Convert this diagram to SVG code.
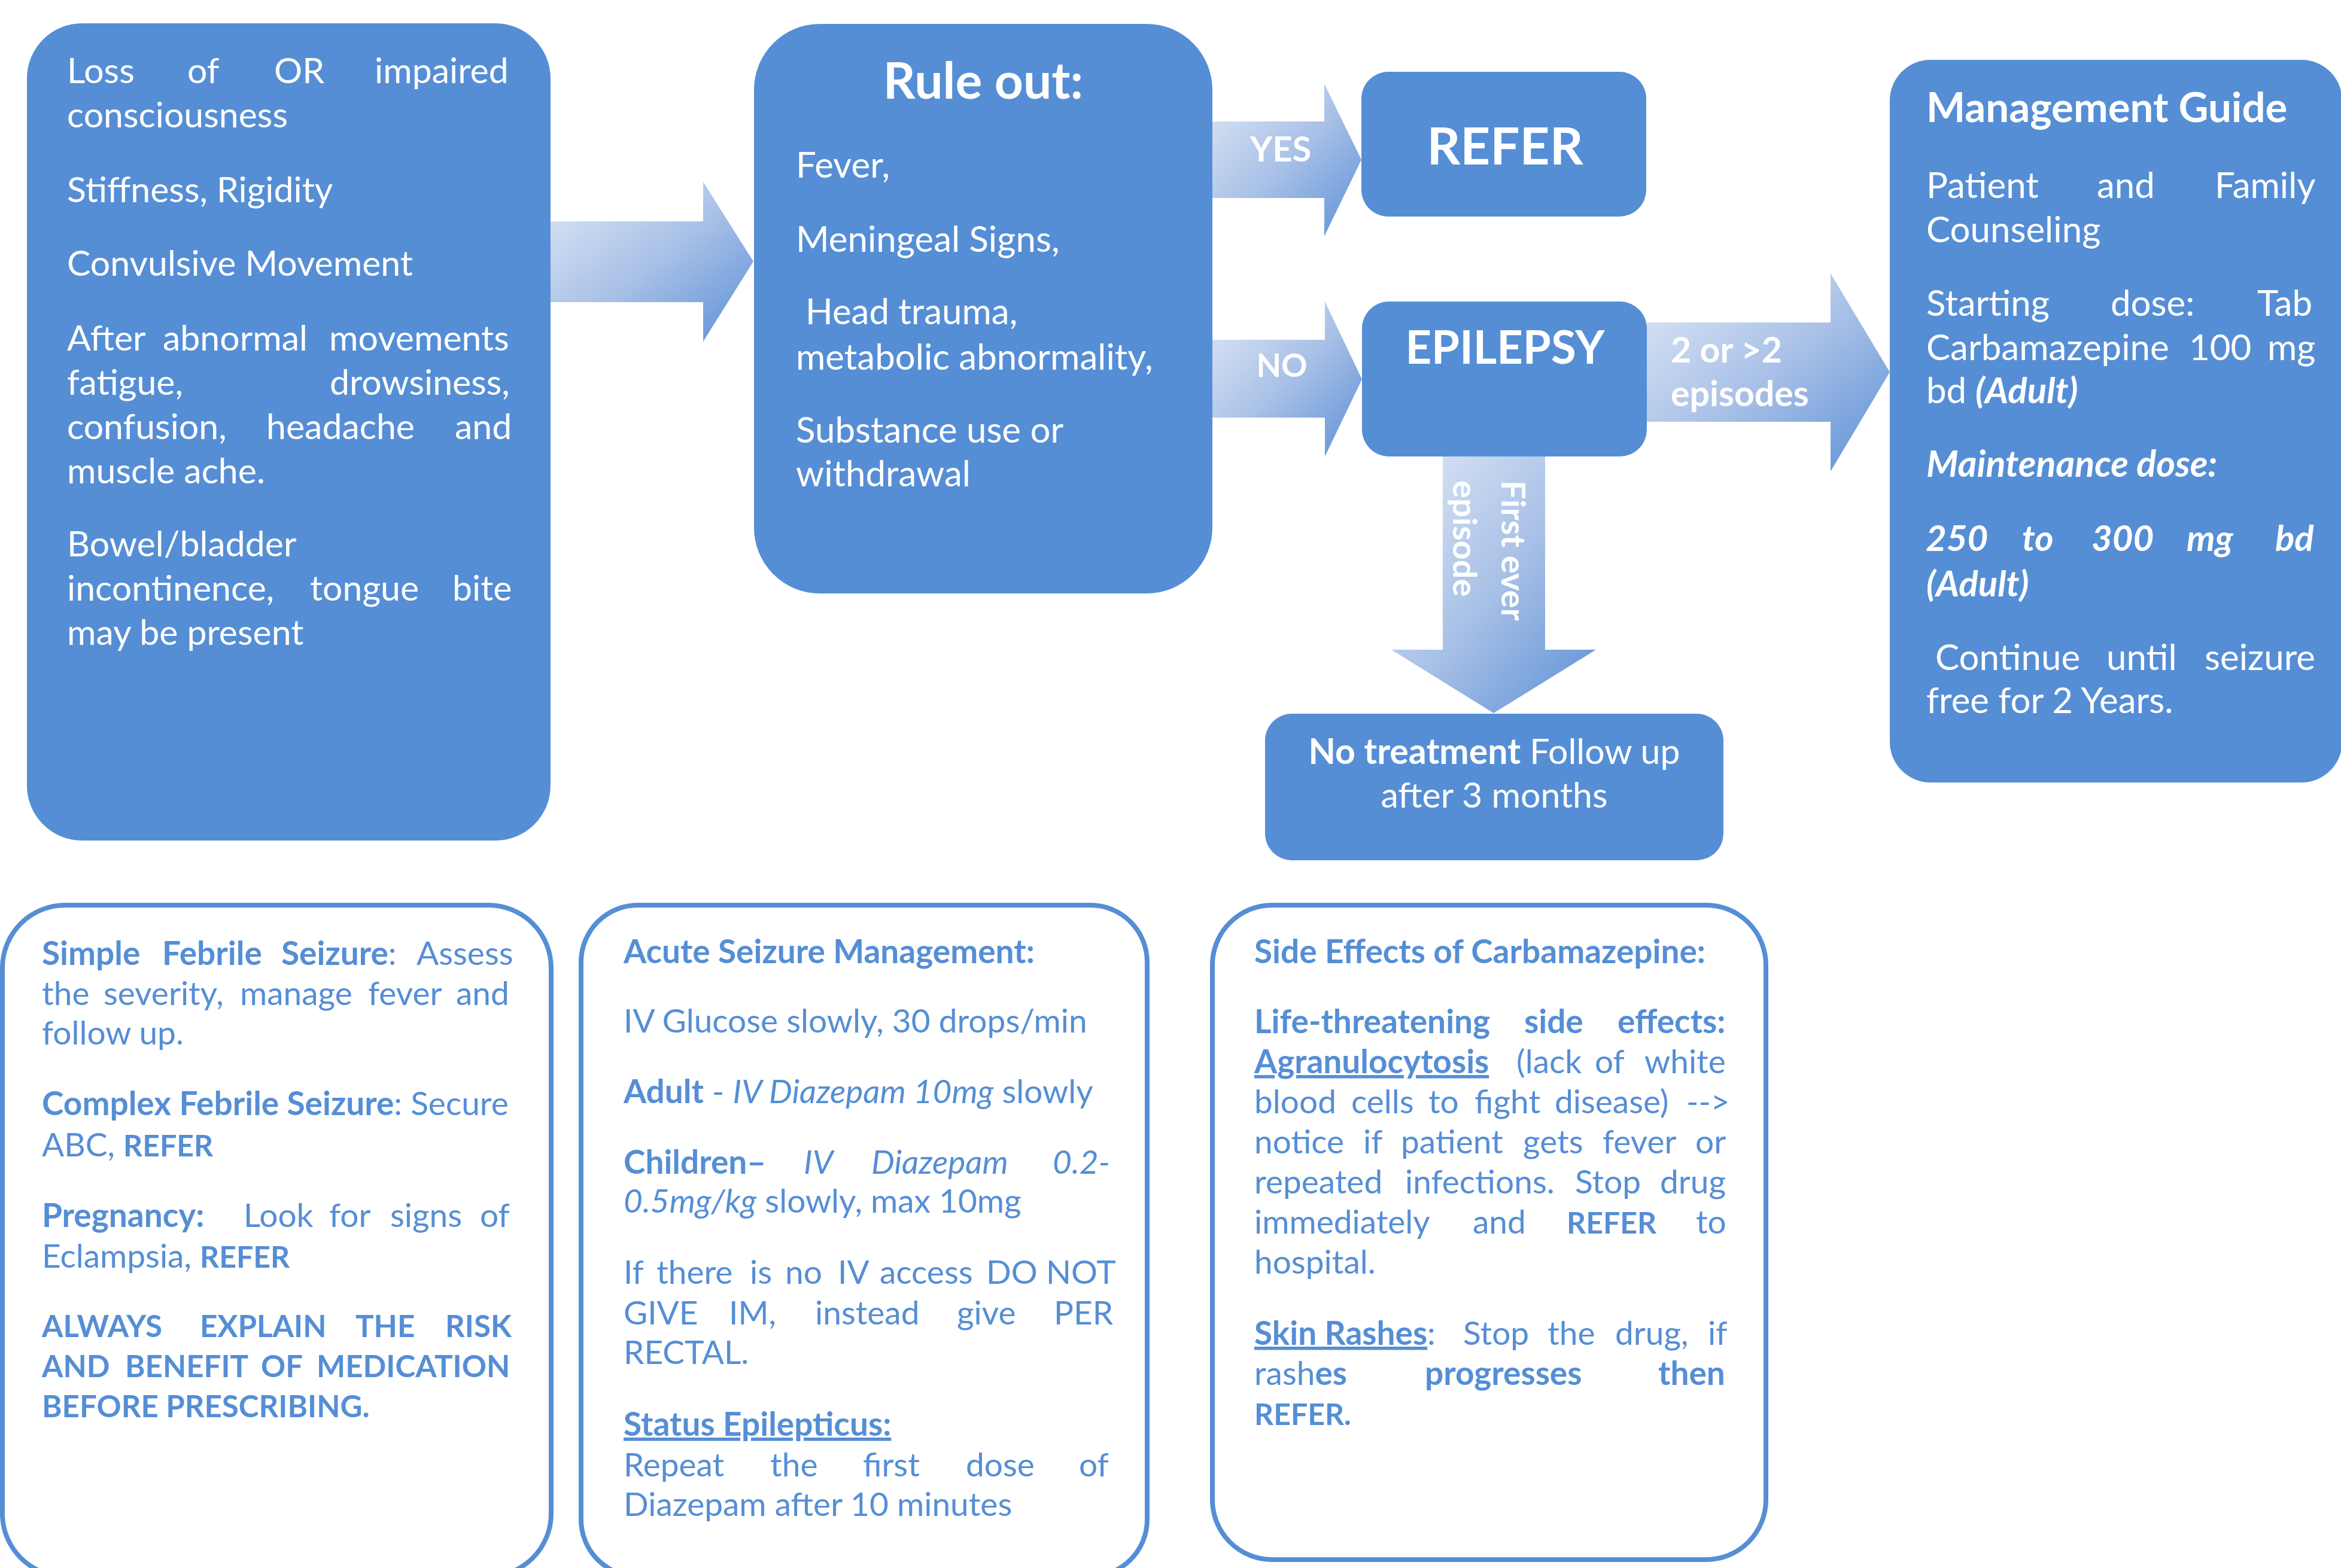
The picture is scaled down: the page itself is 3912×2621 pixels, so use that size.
<svg xmlns="http://www.w3.org/2000/svg" width="3912" height="2621" viewBox="0 0 3912 2621">
<style>
text{font-family:Lato,"Liberation Sans",sans-serif;}
.w{fill:#ffffff;}
.bl{fill:#558ED5;}
.s59{font-size:59px;}
.s60{font-size:60px;}
.s55{font-size:55px;}
.b{font-weight:700;}
.cap{font-size:50px;}
.n{font-weight:400;}
.i{font-style:italic;}
.u{text-decoration:underline;}
.node{fill:#558ED5;}
.out{fill:#ffffff;stroke:#558ED5;stroke-width:8;}
.arrow{fill:url(#grad);}
</style>
<defs>
<linearGradient id="grad" x1="0" y1="0" x2="1" y2="1">
<stop offset="0" stop-color="#DFE8F6"/>
<stop offset="0.5" stop-color="#A9C1E7"/>
<stop offset="1" stop-color="#5C90D6"/>
</linearGradient>
</defs>
<rect width="3912" height="2621" fill="#ffffff"/>

<g id="connectors">
<polygon class="arrow" points="920,370 1175,370 1175,304 1259,437 1175,571 1175,505 920,505"/>
<g id="edge-yes">
<polygon class="arrow" points="2026,203 2213,203 2213,140 2275,267 2213,395 2213,331 2026,331"/>
<text class="w b" x="2140" y="270" font-size="58" text-anchor="middle">YES</text>
</g>
<g id="edge-no">
<polygon class="arrow" points="2026,568 2214,568 2214,504 2276,634 2214,763 2214,698 2026,698"/>
<text class="w b" x="2142" y="630" font-size="54" text-anchor="middle">NO</text>
</g>
<g id="edge-2">
<polygon class="arrow" points="2752,539 3059,539 3059,457 3158,622 3059,788 3059,705 2752,705"/>
<text class="w b" font-size="59"><tspan x="2792" y="606">2 or &gt;2</tspan><tspan x="2792" y="679">episodes</tspan></text>
</g>
<g id="edge-first">
<polygon class="arrow" points="2411,763 2582,763 2582,1086 2667,1086 2496,1192 2325,1086 2411,1086"/>
<text class="w b" font-size="56" transform="translate(2509,803) rotate(90)"><tspan x="0" y="0">First ever</tspan><tspan x="0" y="81">episode</tspan></text>
</g>
</g>

<g id="symptoms">
<rect class="node" x="45" y="39" width="875" height="1366" rx="92"/>
<text class="w s59">
<tspan x="112" y="139">Loss </tspan><tspan x="313" y="139">of </tspan><tspan x="458" y="139">OR </tspan><tspan x="626" y="139">impaired</tspan>
<tspan x="112" y="213">consciousness</tspan>
</text>
<text class="w s59" x="112" y="338">Stiffness, Rigidity</text>
<text class="w s59" x="112" y="461">Convulsive Movement</text>
<text class="w s59">
<tspan x="112" y="586">After </tspan><tspan x="272" y="586">abnormal </tspan><tspan x="550" y="586">movements</tspan>
<tspan x="112" y="660">fatigue, </tspan><tspan x="551" y="660">drowsiness,</tspan>
<tspan x="112" y="734">confusion, </tspan><tspan x="445" y="734">headache </tspan><tspan x="760" y="734">and</tspan>
<tspan x="112" y="808">muscle ache.</tspan>
</text>
<text class="w s59">
<tspan x="112" y="930">Bowel/bladder</tspan>
<tspan x="112" y="1004">incontinence, </tspan><tspan x="518" y="1004">tongue </tspan><tspan x="756" y="1004">bite</tspan>
<tspan x="112" y="1078">may be present</tspan>
</text>
</g>

<g id="rule-out">
<rect class="node" x="1260" y="40" width="766" height="952" rx="110"/>
<text class="w b" x="1643" y="165" font-size="84" text-anchor="middle">Rule out:</text>
<text class="w s60" x="1330" y="297">Fever,</text>
<text class="w s60" x="1330" y="421">Meningeal Signs,</text>
<text class="w s60"><tspan x="1346" y="542">Head trauma,</tspan><tspan x="1330" y="618">metabolic abnormality,</tspan></text>
<text class="w s60"><tspan x="1330" y="740">Substance use or</tspan><tspan x="1330" y="813">withdrawal</tspan></text>
</g>

<g id="refer">
<rect class="node" x="2275" y="120" width="476" height="242" rx="45"/>
<text class="w b" x="2515" y="275" font-size="87" text-anchor="middle">REFER</text>
</g>

<g id="epilepsy">
<rect class="node" x="2276" y="504" width="476" height="259" rx="45"/>
<text class="w b" x="2515" y="608" font-size="76" text-anchor="middle">EPILEPSY</text>
</g>

<g id="no-treatment">
<rect class="node" x="2114" y="1193" width="766" height="245" rx="45"/>
<text class="w" font-size="59" text-anchor="middle"><tspan x="2497" y="1277"><tspan class="b">No treatment</tspan> Follow up</tspan><tspan x="2497" y="1350">after 3 months</tspan></text>
</g>

<g id="management">
<rect class="node" x="3158" y="100" width="756" height="1208" rx="68"/>
<text class="w b" x="3219" y="204" font-size="69">Management Guide</text>
<text class="w s60"><tspan x="3219" y="331">Patient </tspan><tspan x="3504" y="331">and </tspan><tspan x="3701" y="331">Family</tspan>
<tspan x="3219" y="405">Counseling</tspan></text>
<text class="w s60"><tspan x="3219" y="528">Starting </tspan><tspan x="3527" y="528">dose: </tspan><tspan x="3772" y="528">Tab</tspan>
<tspan x="3219" y="602">Carbamazepine </tspan><tspan x="3658" y="602">100 </tspan><tspan x="3789" y="602">mg</tspan>
<tspan x="3219" y="674">bd </tspan><tspan x="3301" y="674" class="b i">(Adult)</tspan></text>
<text class="w b i" font-size="61" x="3219" y="797">Maintenance dose:</text>
<text class="w s60 b i"><tspan x="3218" y="921">250 </tspan><tspan x="3379" y="921">to </tspan><tspan x="3495" y="921">300 </tspan><tspan x="3654" y="921">mg </tspan><tspan x="3802" y="921">bd</tspan>
<tspan x="3219" y="997">(Adult)</tspan></text>
<text class="w s60"><tspan x="3234" y="1120">Continue </tspan><tspan x="3520" y="1120">until </tspan><tspan x="3684" y="1120">seizure</tspan>
<tspan x="3219" y="1192">free for 2 Years.</tspan></text>
</g>

<g id="febrile">
<rect class="out" x="4" y="1513" width="917" height="1122" rx="105"/>
<text class="bl s55"><tspan x="70" y="1613" class="b">Simple </tspan><tspan x="271" y="1613" class="b">Febrile </tspan><tspan x="470" y="1613"><tspan class="b">Seizure</tspan>: </tspan><tspan x="696" y="1613">Assess</tspan>
<tspan x="70" y="1680">the </tspan><tspan x="173" y="1680">severity, </tspan><tspan x="401" y="1680">manage </tspan><tspan x="615" y="1680">fever </tspan><tspan x="762" y="1680">and</tspan>
<tspan x="70" y="1746">follow up.</tspan></text>
<text class="bl s55"><tspan x="70" y="1864"><tspan class="b">Complex Febrile Seizure</tspan>: Secure</tspan>
<tspan x="70" y="1933">ABC, <tspan class="b cap">REFER</tspan></tspan></text>
<text class="bl s55"><tspan x="70" y="2051" class="b">Pregnancy: </tspan><tspan x="407" y="2051">Look </tspan><tspan x="550" y="2051">for </tspan><tspan x="652" y="2051">signs </tspan><tspan x="802" y="2051">of</tspan>
<tspan x="70" y="2119">Eclampsia, <tspan class="b cap">REFER</tspan></tspan></text>
<text class="bl b" font-size="51"><tspan x="70" y="2235">ALWAYS </tspan><tspan x="334" y="2235">EXPLAIN </tspan><tspan x="594" y="2235">THE </tspan><tspan x="744" y="2235">RISK</tspan>
<tspan x="70" y="2302">AND </tspan><tspan x="209" y="2302">BENEFIT </tspan><tspan x="436" y="2302">OF </tspan><tspan x="529" y="2302">MEDICATION</tspan>
<tspan x="70" y="2369">BEFORE PRESCRIBING.</tspan></text>
</g>

<g id="acute">
<rect class="out" x="971" y="1513" width="946" height="1122" rx="95"/>
<text class="bl s55 b" x="1042" y="1610">Acute Seizure Management:</text>
<text class="bl s55" x="1042" y="1726">IV Glucose slowly, 30 drops/min</text>
<text class="bl s55" x="1042" y="1844"><tspan class="b">Adult</tspan> - <tspan class="i">IV Diazepam 10mg</tspan> slowly</text>
<text class="bl s55"><tspan x="1042" y="1962" class="b">Children– </tspan><tspan x="1343" y="1962" class="i">IV </tspan><tspan x="1456" y="1962" class="i">Diazepam </tspan><tspan x="1759" y="1962" class="i">0.2-</tspan>
<tspan x="1042" y="2027"><tspan class="i">0.5mg/kg</tspan> slowly, max 10mg</tspan></text>
<text class="bl s55"><tspan x="1042" y="2146">If </tspan><tspan x="1097" y="2146">there </tspan><tspan x="1253" y="2146">is </tspan><tspan x="1312" y="2146">no </tspan><tspan x="1400" y="2146">IV </tspan><tspan x="1470" y="2146">access </tspan><tspan x="1648" y="2146">DO </tspan><tspan x="1748" y="2146">NOT</tspan>
<tspan x="1042" y="2214">GIVE </tspan><tspan x="1218" y="2214">IM, </tspan><tspan x="1362" y="2214">instead </tspan><tspan x="1599" y="2214">give </tspan><tspan x="1761" y="2214">PER</tspan>
<tspan x="1042" y="2280">RECTAL.</tspan></text>
<text class="bl s55"><tspan x="1042" y="2400" class="b u">Status Epilepticus:</tspan>
<tspan x="1042" y="2468">Repeat </tspan><tspan x="1287" y="2468">the </tspan><tspan x="1442" y="2468">first </tspan><tspan x="1614" y="2468">dose </tspan><tspan x="1803" y="2468">of</tspan>
<tspan x="1042" y="2534">Diazepam after 10 minutes</tspan></text>
</g>

<g id="side-effects">
<rect class="out" x="2026" y="1513" width="925" height="1094" rx="100"/>
<text class="bl s55 b" x="2096" y="1610">Side Effects of Carbamazepine:</text>
<text class="bl s55"><tspan x="2096" y="1727" class="b">Life-threatening </tspan><tspan x="2547" y="1727" class="b">side </tspan><tspan x="2703" y="1727" class="b">effects:</tspan>
<tspan x="2096" y="1794" class="b u">Agranulocytosis</tspan><tspan x="2520" y="1794"> (lack </tspan><tspan x="2665" y="1794">of </tspan><tspan x="2748" y="1794">white</tspan>
<tspan x="2096" y="1861">blood </tspan><tspan x="2258" y="1861">cells </tspan><tspan x="2387" y="1861">to </tspan><tspan x="2464" y="1861">fight </tspan><tspan x="2598" y="1861">disease) </tspan><tspan x="2818" y="1861">--&gt;</tspan>
<tspan x="2096" y="1928">notice </tspan><tspan x="2278" y="1928">if </tspan><tspan x="2341" y="1928">patient </tspan><tspan x="2545" y="1928">gets </tspan><tspan x="2678" y="1928">fever </tspan><tspan x="2833" y="1928">or</tspan>
<tspan x="2096" y="1995">repeated </tspan><tspan x="2348" y="1995">infections. </tspan><tspan x="2632" y="1995">Stop </tspan><tspan x="2774" y="1995">drug</tspan>
<tspan x="2096" y="2062">immediately </tspan><tspan x="2461" y="2062">and </tspan><tspan x="2618" y="2062" class="b cap">REFER </tspan><tspan x="2834" y="2062">to</tspan>
<tspan x="2096" y="2129">hospital.</tspan></text>
<text class="bl s55"><tspan x="2096" y="2248"><tspan class="b u">Skin Rashes</tspan>: </tspan><tspan x="2445" y="2248">Stop </tspan><tspan x="2586" y="2248">the </tspan><tspan x="2699" y="2248">drug, </tspan><tspan x="2854" y="2248">if</tspan>
<tspan x="2096" y="2315">rash<tspan class="b">es </tspan></tspan><tspan x="2381" y="2315" class="b">progresses </tspan><tspan x="2771" y="2315" class="b">then</tspan>
<tspan x="2096" y="2382" class="b cap">REFER.</tspan></text>
</g>
</svg>
